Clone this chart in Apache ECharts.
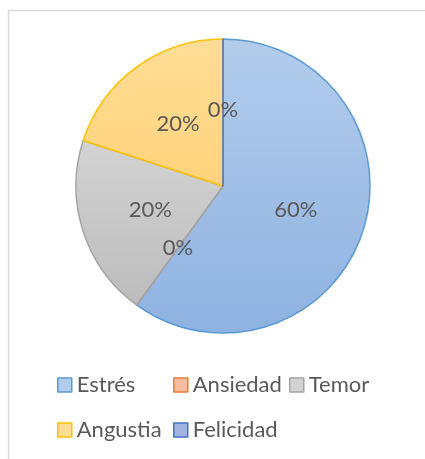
<!DOCTYPE html>
<html>
<head>
<meta charset="utf-8">
<script src="https://cdn.jsdelivr.net/npm/echarts@6/dist/echarts.min.js"></script>
<style>
html,body{margin:0;padding:0;background:#fff;}
#c{width:425px;height:459px;}
</style>
</head>
<body>
<div id="c"></div>
<script>
const categories = ['Estrés', 'Ansiedad', 'Temor', 'Angustia', 'Felicidad'];
const values = [60, 0, 20, 20, 0];
const fillTop = ['#B2CCEB', '#F6BCA0', '#D3D3D3', '#FFDD96', '#A3B3E0'];
const fillBottom = ['#8EB2E1', '#F3AB88', '#BCBCBC', '#FFD37C', '#8C9FD6'];
const borders = ['#5B9BD5', '#ED7D31', '#A5A5A5', '#FFC000', '#4472C4'];
const legendPos = [[57, 374], [173, 374], [289, 374], [57, 419], [173, 419]];

const FONT = 'Lato';
const chart = echarts.init(document.getElementById('c'));

const data = categories.map((n, i) => ({
  name: n,
  value: values[i],
  itemStyle: {
    color: new echarts.graphic.LinearGradient(0, 0, 0, 1, [
      {offset: 0, color: fillTop[i]}, {offset: 1, color: fillBottom[i]}
    ]),
    borderColor: borders[i],
    borderWidth: 1.5
  }
}));

const legends = categories.map((n, i) => ({
  left: legendPos[i][0],
  top: legendPos[i][1],
  icon: 'rect',
  itemWidth: 14,
  itemHeight: 14,
  itemGap: 0,
  padding: 0,
  selectedMode: false,
  textStyle: {fontFamily: FONT, fontSize: 22, color: '#595959'},
  data: [{
    name: n,
    itemStyle: {color: fillTop[i], borderColor: borders[i], borderWidth: 1.5}
  }]
}));

chart.setOption({
  animation: false,
  backgroundColor: '#fff',
  graphic: [{
    type: 'rect',
    shape: {x: 8.5, y: 10.5, width: 440, height: 470},
    style: {fill: 'none', stroke: '#D9D9D9', lineWidth: 1.5},
    silent: true
  }],
  legend: legends,
  series: [{
    type: 'pie',
    center: [223, 186],
    radius: 147,
    startAngle: 90,
    clockwise: true,
    avoidLabelOverlap: false,
    stillShowZeroSum: true,
    label: {
      show: true,
      position: 'inside',
      fontFamily: FONT,
      fontSize: 22,
      color: '#595959',
      formatter: p => Math.round(p.percent) + '%'
    },
    labelLine: {show: false},
    emphasis: {disabled: true},
    data: data
  }]
});
</script>
</body>
</html>
